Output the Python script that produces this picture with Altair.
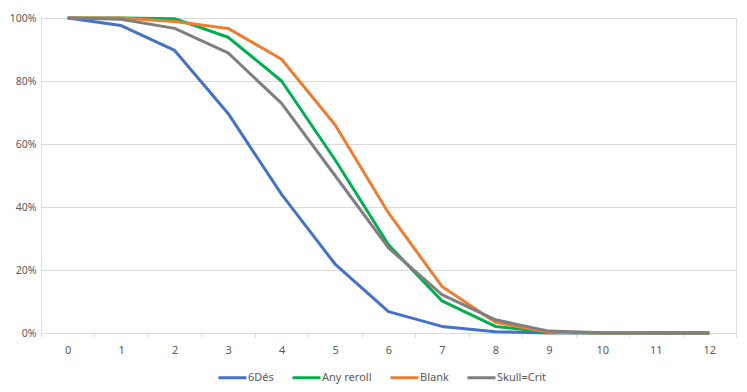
import altair as alt
import pandas as pd

rolls = list(range(13))
six_des = [1.0, 0.976, 0.897, 0.697, 0.44, 0.219, 0.068, 0.021, 0.004, 0.0, 0.0, 0.0, 0.0]
any_reroll = [1.0, 1.0, 0.998, 0.939, 0.80, 0.55, 0.28, 0.102, 0.021, 0.002, 0.0, 0.0, 0.0]
blank = [1.0, 1.0, 0.989, 0.967, 0.869, 0.661, 0.381, 0.148, 0.034, 0.002, 0.0, 0.0, 0.0]
skull_crit = [1.0, 0.996, 0.967, 0.889, 0.729, 0.50, 0.27, 0.122, 0.042, 0.006, 0.001, 0.0, 0.0]

series_names = ["6Dés", "Any reroll", "Blank", "Skull=Crit"]
series_values = [six_des, any_reroll, blank, skull_crit]
colors = ["#4472C4", "#00B050", "#ED7D31", "#7F7F7F"]

rows = []
for name, vals in zip(series_names, series_values):
    for r, v in zip(rolls, vals):
        rows.append({"roll": str(r), "p": v, "series": name})
df = pd.DataFrame(rows)

font = "Noto Sans"
txt = "#595959"

chart = alt.Chart(df).mark_line(strokeWidth=3, strokeJoin="round").encode(
    x=alt.X("roll:O", sort=[str(r) for r in rolls], bandPosition=0.5,
            scale=alt.Scale(type="band", paddingInner=0, paddingOuter=0),
            axis=alt.Axis(title=None, labelAngle=0, tickBand="extent", grid=False,
                          domainColor="#D9D9D9", tickColor="#D9D9D9", tickSize=4,
                          labelPadding=7, labelColor=txt, labelFont=font, labelFontSize=11)),
    y=alt.Y("p:Q", scale=alt.Scale(domain=[0, 1]),
            axis=alt.Axis(title=None, format=".0%", values=[0, 0.2, 0.4, 0.6, 0.8, 1.0],
                          domain=False, ticks=False, gridColor="#D9D9D9",
                          labelPadding=5, labelColor=txt, labelFont=font, labelFontSize=10.5)),
    color=alt.Color("series:N", sort=series_names,
                    scale=alt.Scale(domain=series_names, range=colors),
                    legend=alt.Legend(title=None, orient="none", direction="horizontal",
                                      legendX=176, legendY=344,
                                      symbolType="stroke", symbolStrokeWidth=3, symbolSize=784,
                                      labelColor=txt, labelFont=font, labelFontSize=11,
                                      columnPadding=12, labelOffset=0)),
    order=alt.Order("series:N"),
).properties(
    width=695, height=315,
    autosize=alt.AutoSizeParams(type="none"),
    padding={"left": 33, "top": 10, "right": 3, "bottom": 58},
).configure_view(stroke=None).configure(background="white")

chart.save("out.html", embed_options={"renderer": "svg", "actions": False})
